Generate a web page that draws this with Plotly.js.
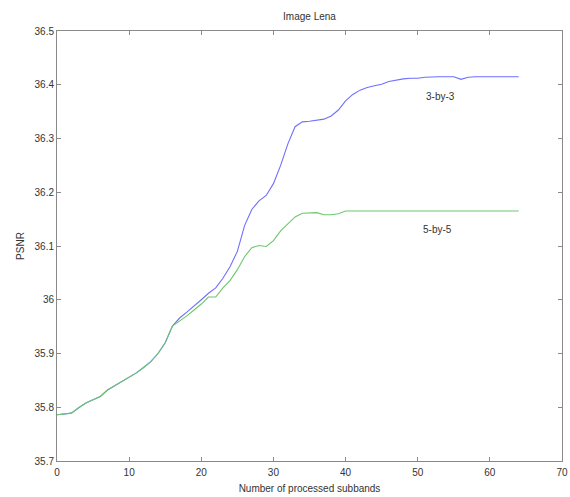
<!DOCTYPE html>
<html>
<head>
<meta charset="utf-8">
<script src="https://cdn.plot.ly/plotly-3.0.1.min.js"></script>
<style>html,body{margin:0;padding:0;background:#fff;}#chart{width:570px;height:497px;}</style>
</head>
<body>
<div id="chart"></div>
<script>
var subbands = [];
for (var i = 0; i <= 64; i++) subbands.push(i);

var psnr3x3 = [
  35.786, 35.787, 35.789, 35.799, 35.808, 35.814, 35.820, 35.832, 35.840, 35.847,
  35.855, 35.864, 35.874, 35.885, 35.900, 35.920, 35.951, 35.966, 35.977, 35.988,
  36.000, 36.012, 36.022, 36.040, 36.062, 36.090, 36.138, 36.168, 36.184, 36.194,
  36.216, 36.250, 36.290, 36.322, 36.331, 36.332, 36.334, 36.336, 36.342, 36.353,
  36.370, 36.382, 36.390, 36.395, 36.398, 36.401, 36.406, 36.409, 36.411, 36.412,
  36.412, 36.414, 36.415, 36.415, 36.415, 36.415, 36.410, 36.414, 36.415, 36.415,
  36.415, 36.415, 36.415, 36.415, 36.415
];

var psnr5x5 = [
  35.786, 35.787, 35.789, 35.799, 35.808, 35.814, 35.820, 35.832, 35.840, 35.847,
  35.855, 35.864, 35.874, 35.885, 35.900, 35.920, 35.951, 35.960, 35.970, 35.981,
  35.992, 36.005, 36.005, 36.022, 36.036, 36.056, 36.080, 36.097, 36.101, 36.099,
  36.110, 36.128, 36.142, 36.154, 36.161, 36.162, 36.162, 36.158, 36.158, 36.160,
  36.165, 36.165, 36.165, 36.165, 36.165, 36.165, 36.165, 36.165, 36.165, 36.165,
  36.165, 36.165, 36.165, 36.165, 36.165, 36.165, 36.165, 36.165, 36.165, 36.165,
  36.165, 36.165, 36.165, 36.165, 36.165
];

var seriesNames = ['3-by-3', '5-by-5'];
var labelX = [53.2, 52.8];
var labelY = [36.378, 36.130];
var xTicks = [0, 10, 20, 30, 40, 50, 60, 70];
var yTicks = [35.7, 35.8, 35.9, 36, 36.1, 36.2, 36.3, 36.4, 36.5];

var fontFam = 'Liberation Sans, Arial, sans-serif';
var traces = [
  {x: subbands, y: psnr3x3, type: 'scatter', mode: 'lines', name: seriesNames[0],
   line: {color: '#6f6fff', width: 1.1}},
  {x: subbands, y: psnr5x5, type: 'scatter', mode: 'lines', name: seriesNames[1],
   line: {color: '#6cc86c', width: 1.1}}
];

var axisCommon = {
  showline: true, linecolor: '#8a8a8a', linewidth: 1, mirror: 'ticks',
  ticks: 'inside', ticklen: 4, tickcolor: '#8a8a8a', tickwidth: 1,
  showgrid: false, zeroline: false,
  tickfont: {family: fontFam, size: 10, color: '#333'}
};

var layout = {
  width: 570, height: 497,
  margin: {l: 57, r: 8, t: 31, b: 36},
  paper_bgcolor: '#fff', plot_bgcolor: '#fff',
  showlegend: false,
  font: {family: fontFam, size: 10, color: '#333'},
  title: {text: 'Image Lena', font: {family: fontFam, size: 10, color: '#333'},
          x: 0.543, xanchor: 'center', y: 1 - 16/497, yanchor: 'middle', yref: 'container'},
  xaxis: Object.assign({}, axisCommon, {
    range: [0, 70], tickmode: 'array', tickvals: xTicks, ticktext: xTicks.map(String),
    ticklabelstandoff: 2,
    title: {text: 'Number of processed subbands', font: {family: fontFam, size: 10, color: '#333'}, standoff: 7}
  }),
  yaxis: Object.assign({}, axisCommon, {
    range: [35.7, 36.5], tickmode: 'array', tickvals: yTicks, ticktext: yTicks.map(function(v){return String(v);}),
    title: {text: 'PSNR', font: {family: fontFam, size: 10, color: '#333'}, standoff: 8}
  }),
  annotations: seriesNames.map(function(n, k) {
    return {x: labelX[k], y: labelY[k], xref: 'x', yref: 'y', text: n, showarrow: false,
            font: {family: fontFam, size: 10, color: '#333'}, xanchor: 'center', yanchor: 'middle'};
  })
};

Plotly.newPlot('chart', traces, layout, {displayModeBar: false, staticPlot: true});
</script>
</body>
</html>
